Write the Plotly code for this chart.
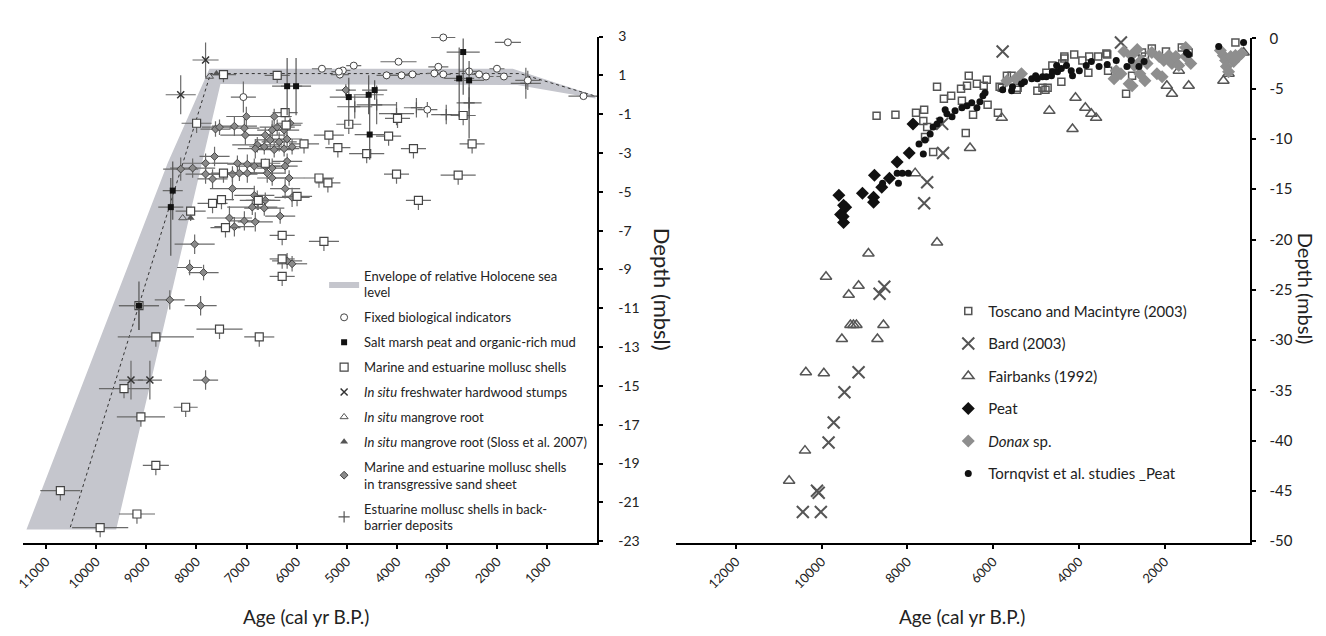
import plotly.graph_objects as go

# ---------------- LEFT PANEL DATA ----------------
env_age = [7740, 1690, 40, 40, 1600, 7520, 9600, 11390, 8570, 7740]
env_depth = [1.34, 1.34, -0.05, -0.2, 0.5, 0.55, -22.4, -22.4, -3.5, 1.34]
mid_age = [10515, 7718, 1550, 0]
mid_depth = [-22.28, 1.09, 1.09, -0.1]

fixed_age = [3075, 1786, 3968, 5496, 5138, 5079, 4861, 4206, 3908, 3690, 3254, 3174, 3075, 2560, 2361, 2222, 2004, 1865, 5158, 1389, 278, 7063, 3393]
fixed_depth = [2.95, 2.7, 1.7, 1.34, 1.04, 1.25, 1.5, 1.0, 1.0, 1.05, 1.1, 1.44, 1.05, 1.2, 1.05, 0.94, 1.34, 0.94, 1.19, 0.74, -0.07, -0.12, -0.77]
fixed_xerr = [240, 260, 360, 200, 180, 150, 150, 200, 250, 150, 150, 200, 150, 200, 150, 150, 150, 150, 150, 250, 300, 250, 200]
fixed_yerr = [0.2, 0.1, 0.1, 0.1, 0.2, 0.1, 0.1, 0.2, 0.2, 0.1, 0.2, 0.2, 0.1, 0.2, 0.2, 0.1, 0.1, 0.1, 0.1, 0.5, 0.1, 0.8, 0.4]

marsh_age = [6190, 6012, 4960, 4563, 4543, 4444, 2678, 2758, 2560, 8472, 8511, 9146]
marsh_depth = [0.44, 0.44, -0.12, 0.0, -2.05, 0.24, 2.2, 0.84, 0.74, -4.94, -5.79, -10.87]
marsh_xerr = [300, 300, 380, 300, 300, 250, 330, 300, 300, 200, 250, 400]
marsh_yerr_up = [1.45, 1.45, 1.0, 1.0, 2.0, 0.5, 0.7, 1.6, 1.0, 1.5, 1.5, 1.25]
marsh_yerr_dn = [1.5, 1.5, 1.5, 1.0, 1.3, 0.5, 2.2, 2.0, 3.0, 1.5, 2.5, 1.25]

shell_age = [7996, 7460, 6388, 6230, 6210, 4960, 5357, 5178, 5853, 4603, 4166, 3670, 2500, 4008, 2778, 5555, 5377, 3571, 5456, 2678, 3988, 6626, 7460, 5992, 7678, 7500, 6765, 8115, 7420, 6289, 6289, 6289, 9146, 8809, 7539, 6746, 9444, 8214, 9107, 8809, 10714, 9186, 9920]
shell_depth = [-1.47, 1.04, 1.0, -0.92, -1.57, -1.52, -2.08, -2.73, -2.53, -3.03, -2.13, -2.78, -2.53, -4.09, -4.14, -4.29, -4.54, -5.44, -7.55, -1.07, -1.22, -3.53, -4.04, -5.24, -5.6, -5.4, -5.44, -6.0, -6.85, -7.25, -8.46, -9.36, -10.87, -12.48, -12.08, -12.48, -15.14, -16.1, -16.6, -19.1, -20.4, -21.6, -22.3]
shell_xerr = [300, 250, 250, 250, 300, 250, 300, 250, 300, 350, 250, 250, 250, 250, 350, 300, 250, 250, 300, 250, 250, 300, 250, 300, 300, 250, 250, 300, 300, 250, 250, 250, 400, 760, 460, 300, 500, 240, 480, 260, 400, 360, 560]
shell_yerr_dn = [0.5, 0.4, 0.4, 0.5, 0.5, 0.5, 0.5, 0.5, 0.5, 0.5, 0.5, 0.5, 0.5, 0.5, 0.5, 0.5, 0.5, 0.5, 0.5, 0.5, 0.5, 0.5, 0.5, 0.5, 0.5, 0.5, 0.5, 0.5, 0.5, 0.5, 0.5, 0.5, 1.25, 0.5, 0.5, 0.5, 0.5, 0.5, 0.5, 0.5, 0.5, 0.5, 0.5]

stump_age = [7817, 8313, 9305, 8928]
stump_depth = [1.79, 0.0, -14.7, -14.7]
stump_xerr = [260, 300, 240, 240]
stump_yerr = [0.9, 1.0, 1.0, 1.0]

mangrove_age = [7738, 8273]
mangrove_depth = [0.94, -6.35]
sloss_age = [7600, 8115]
sloss_depth = [1.1, -6.35]

sand_age = [7004, 6448, 7242, 7043, 7619, 7539, 7023, 6626, 6488, 6388, 6250, 6131, 6527, 6349, 6190, 6091, 6785, 6825, 6646, 6448, 6250, 7638, 7817, 7182, 6984, 6845, 6626, 6488, 6190, 6230, 8313, 8075, 7817, 7678, 7281, 7142, 6984, 6587, 6488, 6150, 7281, 6845, 6785, 6626, 6230, 6091, 6885, 6646, 7341, 7043, 6825, 6329, 7242, 8035, 8135, 7857, 8531, 7916, 7817, 6091, 6190, 5019]
sand_depth = [-1.12, -1.12, -1.62, -1.72, -1.77, -1.67, -2.08, -2.08, -1.82, -1.67, -1.82, -1.47, -2.33, -2.43, -2.28, -2.68, -2.58, -2.78, -2.68, -2.83, -2.78, -3.18, -3.53, -3.53, -3.58, -3.68, -3.68, -3.78, -3.43, -3.68, -3.83, -3.78, -4.09, -4.34, -4.09, -4.04, -4.04, -4.04, -4.29, -4.29, -4.84, -5.19, -5.44, -5.44, -4.84, -5.29, -5.79, -5.84, -6.35, -6.5, -6.55, -6.25, -6.8, -7.7, -8.9, -9.16, -10.57, -10.87, -14.7, -8.71, -8.56, 0.24]
sand_xerr = [400, 350, 450, 300, 300, 350, 500, 400, 300, 350, 300, 250, 300, 350, 300, 300, 500, 350, 300, 400, 300, 300, 450, 500, 400, 350, 300, 300, 300, 250, 350, 450, 400, 300, 500, 350, 400, 350, 300, 300, 450, 400, 350, 300, 300, 350, 500, 400, 450, 300, 350, 300, 400, 400, 250, 300, 300, 320, 250, 300, 300, 200]
sand_yerr = [0.5, 0.4, 0.5, 0.5, 0.4, 0.4, 0.5, 0.4, 0.5, 0.4, 0.4, 0.3, 0.4, 0.5, 0.4, 0.4, 0.4, 0.5, 0.4, 0.4, 0.4, 0.5, 0.5, 0.4, 0.5, 0.4, 0.4, 0.5, 0.4, 0.4, 0.6, 0.5, 0.5, 0.5, 0.4, 0.4, 0.5, 0.5, 0.4, 0.4, 0.6, 0.5, 0.5, 0.4, 0.5, 0.5, 0.4, 0.4, 0.6, 0.5, 0.5, 0.4, 0.5, 0.5, 0.4, 0.4, 0.5, 0.5, 0.5, 0.4, 0.4, 0.3]

barrier_age = [4841, 4404, 4008, 3611, 3016, 2560, 1428]
barrier_depth = [-0.62, -0.52, -0.97, -0.67, -1.02, -0.42, 0.59]
barrier_xerr = [350, 400, 350, 250, 300, 250, 300]
barrier_yerr = [0.6, 1.0, 0.6, 0.5, 0.5, 0.8, 0.8]

left_xticks = [11000, 10000, 9000, 8000, 7000, 6000, 5000, 4000, 3000, 2000, 1000]
left_xticklabels = ["11000", "10000", "9000", "8000", "7000", "6000", "5000", "4000", "3000", "2000", "1000"]
left_yticks = [3, 1, -1, -3, -5, -7, -9, -11, -13, -15, -17, -19, -21, -23]
left_yticklabels = ["3", "1", "-1", "-3", "-5", "-7", "-9", "-11", "-13", "-15", "-17", "-19", "-21", "-23"]

# ---------------- RIGHT PANEL DATA ----------------
tos_age = [8720, 8280, 7800, 7610, 7630, 7540, 7590, 7310, 7150, 6980, 6750, 6610, 6570, 6380, 6150, 6220, 6130, 6730, 6470, 6640, 7400, 5890, 5850, 5680, 5410, 5450, 4970, 4780, 4760, 4620, 4410, 4340, 4390, 4340, 4110, 3920, 3760, 3550, 3340, 3780, 4850, 3320, 2670, 2760, 2900, 2300, 1970, 1600, 350, 2460, 5570, 5430, 5800, 4730, 3360, 2530, 1440]
tos_depth = [-7.7, -7.6, -7.4, -7.1, -8.2, -8.8, -9.8, -4.8, -6.0, -5.7, -5.0, -4.7, -3.7, -4.5, -4.1, -4.7, -6.6, -6.2, -7.6, -9.4, -11.3, -7.4, -4.8, -3.7, -4.2, -5.1, -5.2, -5.1, -3.4, -2.7, -4.3, -2.0, -2.5, -1.8, -1.6, -2.2, -1.8, -1.8, -1.6, -3.4, -4.9, -3.2, -2.0, -3.7, -5.5, -1.0, -1.3, -0.9, -0.4, -1.8, -3.7, -4.9, -4.9, -4.9, -1.5, -1.4, -1.4]

bard_age = [5780, 3020, 7190, 7170, 7540, 7610, 8540, 8650, 9140, 9470, 9720, 9840, 10110, 10070, 10440, 10020]
bard_depth = [-1.3, -0.4, -8.5, -11.4, -14.3, -16.4, -24.7, -25.4, -33.2, -35.2, -38.2, -40.2, -45.0, -45.2, -47.1, -47.1]

fair_age = [9260, 9330, 9190, 8560, 9530, 8700, 10370, 9950, 10390, 10760, 8910, 9900, 9370, 9140, 7310, 7820, 6540, 5800, 4690, 4150, 4080, 3850, 3710, 3600, 1950, 1830, 1670, 1440, 630, 510, 160]
fair_depth = [-28.5, -28.5, -28.5, -28.5, -29.9, -29.9, -33.2, -33.3, -41.0, -44.0, -21.4, -23.7, -25.5, -24.6, -20.3, -13.4, -10.9, -7.9, -7.2, -9.0, -5.9, -6.9, -7.5, -7.9, -4.7, -5.5, -3.2, -4.7, -4.2, -3.5, -1.4]

peat_age = [7870, 7960, 8240, 8420, 8770, 9050, 8790, 8790, 9600, 9440, 9560, 9490, 9490, 9500, 8600]
peat_depth = [-8.5, -11.4, -12.3, -13.9, -13.6, -15.4, -15.8, -16.3, -15.6, -16.8, -17.5, -18.3, -16.6, -17.7, -14.8]

donax_age = [3130, 3020, 2830, 2760, 2300, 2130, 2020, 1900, 1830, 1740, 2180, 2060, 1670, 1510, 2550, 2710, 2780, 2580, 2460, 2410, 1390, 1510, 630, 580, 460, 390, 350, 560, 510, 280, 210, 700, 3180, 5480, 5340, 5680, 2950, 2640]
donax_depth = [-3.2, -3.5, -4.5, -4.7, -1.4, -1.8, -2.2, -1.7, -2.5, -1.8, -3.5, -3.8, -2.7, -1.8, -2.2, -2.7, -1.7, -3.5, -4.2, -2.5, -2.5, -0.9, -1.7, -2.2, -1.8, -2.3, -1.7, -2.8, -3.3, -1.8, -1.5, -1.2, -4.0, -4.0, -3.5, -4.2, -1.3, -1.1]

torn_age = [7730, 7630, 7590, 7470, 7400, 7310, 7240, 7080, 6890, 6730, 6610, 6500, 6380, 6310, 6240, 6190, 6960, 7120, 5780, 5570, 5550, 5270, 5100, 4970, 4850, 4640, 4500, 4410, 4290, 4760, 4620, 4520, 4180, 4150, 3990, 3830, 3710, 3530, 3340, 3130, 2880, 2780, 2600, 2480, 1490, 1440, 740, 160, 8240, 8120, 7980, 8210, 8580, 5340, 5010]
torn_depth = [-10.5, -11.5, -10.1, -9.5, -8.8, -8.5, -8.1, -7.5, -7.2, -6.9, -6.7, -6.4, -6.9, -6.3, -5.7, -5.4, -7.8, -7.1, -5.1, -5.2, -4.8, -4.3, -4.0, -4.0, -3.8, -3.7, -3.3, -3.0, -2.7, -3.8, -3.3, -2.7, -3.2, -3.7, -3.2, -2.7, -2.3, -2.8, -2.6, -2.2, -2.8, -2.2, -2.8, -2.3, -1.4, -1.6, -0.8, -0.4, -13.4, -13.4, -13.4, -14.4, -14.4, -4.5, -3.7]

right_xticks = [12000, 10000, 8000, 6000, 4000, 2000]
right_xticklabels = ["12000", "10000", "8000", "6000", "4000", "2000"]
right_yticks = [0, -5, -10, -15, -20, -25, -30, -35, -40, -45, -50]
right_yticklabels = ["0", "-5", "-10", "-15", "-20", "-25", "-30", "-35", "-40", "-45", "-50"]

FONT = "Lato"
ERRC = "#6a6a6a"
TXT = "#222222"

# page geometry: figure drawn inside the default 8px body margin
W, H, OFF = 1310, 620, 8


def fx(px):
    return (px - OFF) / W


def fy(py):
    return 1 - (py - OFF) / H


fig = go.Figure()


def ex(arr):
    return dict(type="data", array=arr, color=ERRC, thickness=1.2, width=0, visible=True)


# ---- left panel traces ----
fig.add_trace(go.Scatter(x=env_age, y=env_depth, fill="toself", fillcolor="#c5c6cd", mode="lines",
                         line=dict(width=0, color="#c5c6cd"), name="Envelope of relative Holocene sea<br>level",
                         legend="legend", legendgroup="g0", legendrank=1, xaxis="x", yaxis="y", hoverinfo="skip"))
fig.add_trace(go.Scatter(x=mid_age, y=mid_depth, mode="lines", line=dict(color="#333333", width=1, dash="dot"),
                         showlegend=False, xaxis="x", yaxis="y", hoverinfo="skip"))

fig.add_trace(go.Scatter(x=sand_age, y=sand_depth, mode="markers", name="Marine and estuarine mollusc shells<br>in transgressive sand sheet",
                         marker=dict(symbol="diamond", size=6, color="#8a8a8a", line=dict(color="#444444", width=1)),
                         error_x=ex(sand_xerr), error_y=ex(sand_yerr), legend="legend", legendgroup="g7",
                         legendrank=8, xaxis="x", yaxis="y", cliponaxis=False))
fig.add_trace(go.Scatter(x=barrier_age, y=barrier_depth, mode="markers", name="Estuarine mollusc shells in back-<br>barrier deposits",
                         marker=dict(symbol="cross-thin-open", size=8, color="#555555", line=dict(color="#555555", width=1.2)),
                         error_x=ex(barrier_xerr), error_y=ex(barrier_yerr), legend="legend", legendgroup="g8",
                         legendrank=9, xaxis="x", yaxis="y", cliponaxis=False))
fig.add_trace(go.Scatter(x=fixed_age, y=fixed_depth, mode="markers", name="Fixed biological indicators",
                         marker=dict(symbol="circle", size=7, color="white", line=dict(color="#444444", width=1)),
                         error_x=ex(fixed_xerr), error_y=ex(fixed_yerr), legend="legend", legendgroup="g1",
                         legendrank=2, xaxis="x", yaxis="y", cliponaxis=False))
fig.add_trace(go.Scatter(x=shell_age, y=shell_depth, mode="markers", name="Marine and estuarine mollusc shells",
                         marker=dict(symbol="square", size=8, color="white", line=dict(color="#444444", width=1.2)),
                         error_x=ex(shell_xerr),
                         error_y=dict(type="data", symmetric=False, array=[0] * len(shell_yerr_dn), arrayminus=shell_yerr_dn,
                                      color=ERRC, thickness=1.2, width=0),
                         legend="legend", legendgroup="g3", legendrank=4, xaxis="x", yaxis="y", cliponaxis=False))
fig.add_trace(go.Scatter(x=marsh_age, y=marsh_depth, mode="markers", name="Salt marsh peat and organic-rich mud",
                         marker=dict(symbol="square", size=6, color="#111111"),
                         error_x=ex(marsh_xerr),
                         error_y=dict(type="data", symmetric=False, array=marsh_yerr_up, arrayminus=marsh_yerr_dn,
                                      color="#555555", thickness=1.2, width=0),
                         legend="legend", legendgroup="g2", legendrank=3, xaxis="x", yaxis="y", cliponaxis=False))
fig.add_trace(go.Scatter(x=stump_age, y=stump_depth, mode="markers", name="<i>In situ</i> freshwater hardwood stumps",
                         marker=dict(symbol="x-thin-open", size=7, color="#333333", line=dict(color="#333333", width=1.5)),
                         error_x=ex(stump_xerr), error_y=ex(stump_yerr), legend="legend", legendgroup="g4",
                         legendrank=5, xaxis="x", yaxis="y", cliponaxis=False))
fig.add_trace(go.Scatter(x=mangrove_age, y=mangrove_depth, mode="markers", name="<i>In situ</i> mangrove root",
                         marker=dict(symbol="triangle-up-open", size=7, color="#555555", line=dict(width=1)),
                         legend="legend", legendgroup="g5", legendrank=6, xaxis="x", yaxis="y", cliponaxis=False))
fig.add_trace(go.Scatter(x=sloss_age, y=sloss_depth, mode="markers", name="<i>In situ</i> mangrove root (Sloss et al. 2007)",
                         marker=dict(symbol="triangle-up", size=7, color="#555555"),
                         legend="legend", legendgroup="g6", legendrank=7, xaxis="x", yaxis="y", cliponaxis=False))

# ---- right panel traces ----
fig.add_trace(go.Scatter(x=tos_age, y=tos_depth, mode="markers", name="Toscano and Macintyre (2003)",
                         marker=dict(symbol="square-open", size=7, color="#555555", line=dict(width=1.5)),
                         legend="legend2", legendgroup="r1", legendrank=1, xaxis="x2", yaxis="y2", cliponaxis=False))
fig.add_trace(go.Scatter(x=bard_age, y=bard_depth, mode="markers", name="Bard (2003)",
                         marker=dict(symbol="x-thin-open", size=12, color="#555555", line=dict(width=2)),
                         legend="legend2", legendgroup="r2", legendrank=2, xaxis="x2", yaxis="y2", cliponaxis=False))
fig.add_trace(go.Scatter(x=fair_age, y=fair_depth, mode="markers", name="Fairbanks (1992)",
                         marker=dict(symbol="triangle-up-open", size=10, color="#555555", line=dict(width=1.5)),
                         legend="legend2", legendgroup="r3", legendrank=3, xaxis="x2", yaxis="y2", cliponaxis=False))
fig.add_trace(go.Scatter(x=donax_age, y=donax_depth, mode="markers", name="<i>Donax</i> sp.",
                         marker=dict(symbol="diamond", size=10, color="#8e8e8e"),
                         legend="legend2", legendgroup="r5", legendrank=5, xaxis="x2", yaxis="y2", cliponaxis=False))
fig.add_trace(go.Scatter(x=peat_age, y=peat_depth, mode="markers", name="Peat",
                         marker=dict(symbol="diamond", size=10, color="#111111"),
                         legend="legend2", legendgroup="r4", legendrank=4, xaxis="x2", yaxis="y2", cliponaxis=False))
fig.add_trace(go.Scatter(x=torn_age, y=torn_depth, mode="markers", name="Tornqvist et al. studies _Peat",
                         marker=dict(symbol="circle", size=7, color="#111111"),
                         legend="legend2", legendgroup="r6", legendrank=6, xaxis="x2", yaxis="y2", cliponaxis=False))

axis_common = dict(showgrid=False, zeroline=False, showline=True, linecolor="black", linewidth=2,
                   ticks="outside", ticklen=4, tickwidth=1.5, tickcolor="black")

fig.update_layout(
    width=W, height=H,
    margin=dict(l=0, r=0, t=0, b=0),
    paper_bgcolor="white", plot_bgcolor="white",
    font=dict(family=FONT, color=TXT),
    xaxis=dict(domain=[fx(15), fx(593)], range=[11460, 0], anchor="y",
               tickvals=left_xticks, ticktext=left_xticklabels, tickangle=-45, ticklabeloverflow="allow",
               tickfont=dict(family=FONT, size=13, color=TXT), **axis_common),
    yaxis=dict(domain=[fy(547), fy(27)], range=[-23.1, 3.0], anchor="x", side="right",
               tickvals=left_yticks, ticktext=left_yticklabels, ticklabelstandoff=12,
               tickfont=dict(family=FONT, size=14, color=TXT), **axis_common),
    xaxis2=dict(domain=[fx(672), fx(1250)], range=[13400, 0], anchor="y2",
                tickvals=right_xticks, ticktext=right_xticklabels, tickangle=-45, ticklabeloverflow="allow",
                tickfont=dict(family=FONT, size=13, color=TXT), **axis_common),
    yaxis2=dict(domain=[fy(547), fy(29)], range=[-50.2, 0], anchor="x2", side="right",
                tickvals=right_yticks, ticktext=right_yticklabels, ticklabelstandoff=10,
                tickfont=dict(family=FONT, size=15, color=TXT), **axis_common),
    legend=dict(x=fx(318), y=fy(257), xanchor="left", yanchor="top", bgcolor="rgba(0,0,0,0)",
                font=dict(family=FONT, size=13, color=TXT), traceorder="grouped", tracegroupgap=5,
                itemwidth=30),
    legend2=dict(x=fx(946), y=fy(292), xanchor="left", yanchor="top", bgcolor="rgba(0,0,0,0)",
                 font=dict(family=FONT, size=15, color=TXT), traceorder="grouped", tracegroupgap=10,
                 itemwidth=30),
    annotations=[
        dict(text="Depth (mbsl)", x=fx(658), y=fy(286), xref="paper", yref="paper", showarrow=False,
             xanchor="center", yanchor="middle", textangle=90, font=dict(family=FONT, size=22, color=TXT)),
        dict(text="Depth (mbsl)", x=fx(1306), y=fy(286), xref="paper", yref="paper", showarrow=False,
             xanchor="center", yanchor="middle", textangle=90, font=dict(family=FONT, size=20, color=TXT)),
        dict(text="Age (cal yr B.P.)", x=fx(300), y=fy(622), xref="paper", yref="paper", showarrow=False,
             xanchor="center", yanchor="middle", font=dict(family=FONT, size=19, color=TXT)),
        dict(text="Age (cal yr B.P.)", x=fx(960), y=fy(622), xref="paper", yref="paper", showarrow=False,
             xanchor="center", yanchor="middle", font=dict(family=FONT, size=19, color=TXT)),
    ],
)

fig.write_html("out.html", config={"displayModeBar": False})
